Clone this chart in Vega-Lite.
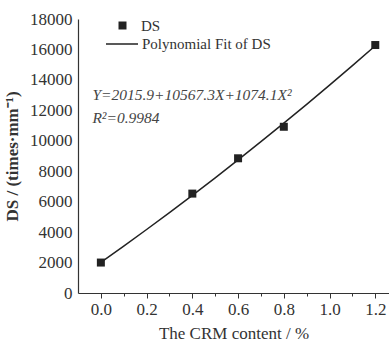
{
  "$schema": "https://vega.github.io/schema/vega-lite/v6.json",
  "width": 311,
  "height": 274,
  "autosize": "none",
  "padding": {"left": 78, "top": 19, "right": 0, "bottom": 53},
  "background": "white",
  "config": {
    "view": {"stroke": null},
    "font": "Liberation Serif",
    "legend": {"labelFont": "Liberation Serif", "labelFontSize": 15, "labelColor": "#333", "padding": 0}
  },
  "datasets": {
    "pts": [
      {"x": 0.0, "y": 2000, "series": "DS"},
      {"x": 0.4, "y": 6530, "series": "DS"},
      {"x": 0.6, "y": 8850, "series": "DS"},
      {"x": 0.8, "y": 10920, "series": "DS"},
      {"x": 1.2, "y": 16290, "series": "DS"}
    ],
    "fit": [
      {"x": 0.0, "y": 2015.9, "series": "Polynomial Fit of DS"},
      {"x": 0.1, "y": 3083.3, "series": "Polynomial Fit of DS"},
      {"x": 0.2, "y": 4172.4, "series": "Polynomial Fit of DS"},
      {"x": 0.3, "y": 5282.8, "series": "Polynomial Fit of DS"},
      {"x": 0.4, "y": 6414.7, "series": "Polynomial Fit of DS"},
      {"x": 0.5, "y": 7568.1, "series": "Polynomial Fit of DS"},
      {"x": 0.6, "y": 8743.0, "series": "Polynomial Fit of DS"},
      {"x": 0.7, "y": 9939.3, "series": "Polynomial Fit of DS"},
      {"x": 0.8, "y": 11157.1, "series": "Polynomial Fit of DS"},
      {"x": 0.9, "y": 12396.5, "series": "Polynomial Fit of DS"},
      {"x": 1.0, "y": 13657.3, "series": "Polynomial Fit of DS"},
      {"x": 1.1, "y": 14939.6, "series": "Polynomial Fit of DS"},
      {"x": 1.2, "y": 16242.6, "series": "Polynomial Fit of DS"}
    ],
    "notes": [
      {"x": -0.037, "y": 13000, "label": "Y=2015.9+10567.3X+1074.1X²"},
      {"x": -0.037, "y": 11500, "label": "R²=0.9984"}
    ]
  },
  "encoding": {
    "x": {"field": "x", "type": "quantitative", "scale": {"domain": [-0.1, 1.26], "nice": false, "zero": false},
      "axis": {"title": "The CRM content / %", "titleFont": "Liberation Serif", "labelFont": "Liberation Serif", "titleFontSize": 17, "labelFontSize": 17, "titleFontWeight": "normal", "labelColor": "#333", "titleColor": "#333", "domainColor": "#333", "tickColor": "#333", "domainWidth": 1.2, "grid": false, "labelOverlap": false,
        "values": [0, 0.1, 0.2, 0.3, 0.4, 0.5, 0.6, 0.7, 0.8, 0.9, 1.0, 1.1, 1.2],
        "labelExpr": "round(datum.value*10)%2==0 ? format(datum.value,'.1f') : ''",
        "tickSize": {"condition": {"test": "round(datum.value*10)%2==0", "value": 5}, "value": 3},
        "labelPadding": 3, "titlePadding": 8}},
    "y": {"field": "y", "type": "quantitative", "scale": {"domain": [0, 18000], "nice": false},
      "axis": {"title": "DS / (times·mm⁻¹)", "titleFont": "Liberation Serif", "labelFont": "Liberation Serif", "titleFontSize": 17, "labelFontSize": 17, "titleFontWeight": "bold", "labelColor": "#333", "titleColor": "#333", "domainColor": "#333", "domainWidth": 1.2, "grid": false, "format": "d", "labelOverlap": false, "labelBound": false,
        "values": [0, 2000, 4000, 6000, 8000, 10000, 12000, 14000, 16000, 18000], "ticks": false, "labelPadding": 6, "titlePadding": 8}}
  },
  "layer": [
    {
      "data": {"name": "fit"},
      "mark": {"type": "line", "strokeWidth": 1.5, "clip": true},
      "encoding": {
        "color": {"field": "series", "type": "nominal", "scale": {"range": ["#222"]},
          "legend": {"orient": "none", "legendX": 27, "legendY": 8, "title": null, "symbolType": "stroke", "symbolSize": 1024, "symbolStrokeWidth": 1.5, "labelOffset": 3}}
      }
    },
    {
      "data": {"name": "pts"},
      "mark": {"type": "point", "filled": true, "color": "#222", "size": 64, "opacity": 1},
      "encoding": {
        "shape": {"field": "series", "type": "nominal", "scale": {"range": ["square"]},
          "legend": {"orient": "none", "legendX": 37, "legendY": -1, "title": null, "symbolSize": 64, "symbolFillColor": "#222", "symbolStrokeColor": "#222", "symbolOpacity": 1, "labelOffset": 11}}
      }
    },
    {
      "data": {"name": "notes"},
      "mark": {"type": "text", "align": "left", "baseline": "middle", "font": "Liberation Serif", "fontStyle": "italic", "fontSize": 15.5, "color": "#444"},
      "encoding": {
        "text": {"field": "label"}
      }
    }
  ]
}
